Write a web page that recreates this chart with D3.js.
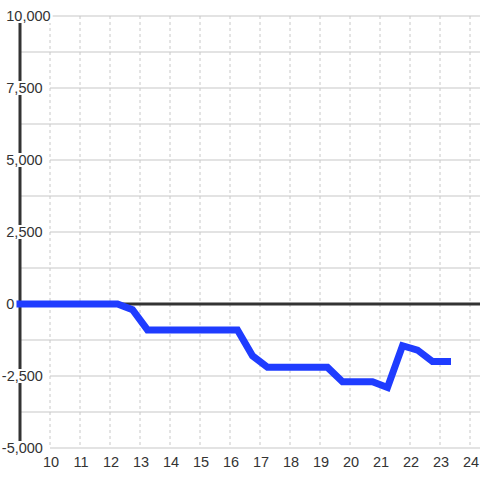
<!DOCTYPE html>
<html><head><meta charset="utf-8">
<script src="https://cdn.jsdelivr.net/npm/d3@7"></script>
<style>body{margin:0;background:#fff}svg{display:block}text{font-family:"Liberation Sans",Arial,sans-serif}</style>
</head><body><svg id="c" width="480" height="480"></svg>
<script>
const hours = [9, 12.25, 12.75, 13.25, 16.25, 16.75, 17.25, 19.25, 19.75, 20.75, 21.25, 21.75, 22.25, 22.75, 23.25];
const values = [0, 0, -200, -900, -900, -1800, -2200, -2200, -2700, -2700, -2900, -1450, -1600, -2000, -2000];
const xTicks = [10,11,12,13,14,15,16,17,18,19,20,21,22,23,24];
const yTicks = [10000, 7500, 5000, 2500, 0, -2500, -5000];
const yMinor = [8750, 6250, 3750, 1250, -1250, -3750];

const svg = d3.select("#c");
const x = d3.scaleLinear().domain([9, 24 + 1/3]).range([20, 480]);
const y = d3.scaleLinear().domain([-5000, 10000]).range([448, 16]);

// vertical dashed grid
svg.append("g").selectAll("line").data(xTicks).join("line")
  .attr("x1", d => x(d)).attr("x2", d => x(d)).attr("y1", y(10000)).attr("y2", y(-5000))
  .attr("stroke", "#c8c8c8").attr("stroke-width", 1).attr("stroke-dasharray", "3,3");
// horizontal grid
svg.append("g").selectAll("line").data(yMinor).join("line")
  .attr("x1", 20).attr("x2", 480).attr("y1", d => y(d)).attr("y2", d => y(d))
  .attr("stroke", "#c8c8c8").attr("stroke-width", 1.2);
svg.append("g").selectAll("line").data(yTicks.filter(v => v !== 0)).join("line")
  .attr("x1", 50).attr("x2", 480).attr("y1", d => y(d)).attr("y2", d => y(d))
  .attr("stroke", "#c8c8c8").attr("stroke-width", 1.2);
// zero line
svg.append("line").attr("x1", 20).attr("x2", 480).attr("y1", y(0)).attr("y2", y(0))
  .attr("stroke", "#333").attr("stroke-width", 3);
// y axis line
svg.append("line").attr("x1", 20).attr("x2", 20).attr("y1", y(10000)).attr("y2", y(-5000))
  .attr("stroke", "#333").attr("stroke-width", 3);
// y labels with white backgrounds
const fmt = d3.format(",");
const yl = svg.append("g");
yTicks.forEach(v => {
  const g = yl.append("g");
  const rect = g.append("rect").attr("fill", "#fff");
  const t = g.append("text").attr("x", v < 0 ? 1.8 : 6.3).attr("y", y(v)).attr("dy", "0.36em")
    .attr("font-size", 14.5).attr("fill", "#333").text(fmt(v).replace("−", "-"));
  const bb = t.node().getBBox();
  rect.attr("x", bb.x - 2).attr("y", y(v) - 7).attr("width", bb.width + 4).attr("height", 14);
});
// data line
const data = hours.map((h, i) => [h, values[i]]);
svg.append("path").datum(data)
  .attr("d", d3.line().x(d => x(d[0])).y(d => y(d[1])))
  .attr("fill", "none").attr("stroke", "#1f3cff").attr("stroke-width", 7)
  .attr("stroke-linecap", "square");
// x labels
svg.append("g").selectAll("text").data(xTicks).join("text")
  .attr("x", d => x(d) + 1).attr("y", 462).attr("dy", "0.36em").attr("text-anchor", "middle")
  .attr("font-size", 14.5).attr("fill", "#333").text(d => d);
</script></body></html>
